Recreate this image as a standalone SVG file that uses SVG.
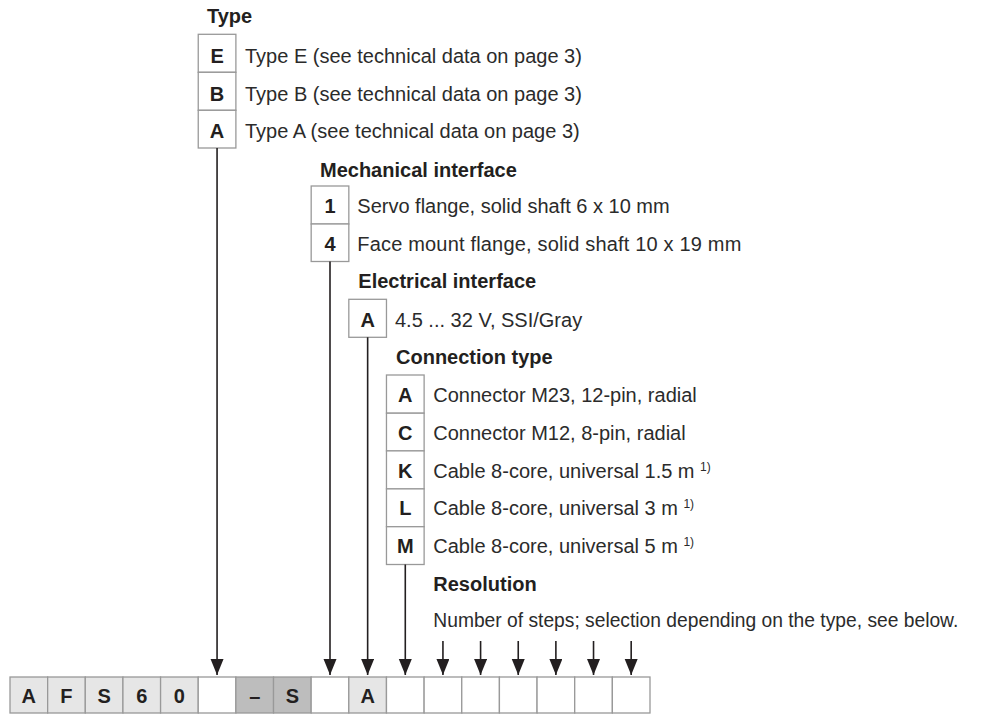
<svg xmlns="http://www.w3.org/2000/svg" width="986" height="715" viewBox="0 0 986 715">
<style>
text{font-family:"Liberation Sans",Arial,sans-serif;fill:#2b2b2b;font-size:20px}
.h{font-weight:bold;fill:#231f20}
.k{font-weight:bold;text-anchor:middle;fill:#231f20}
.sup{font-size:12px}
.box{fill:#fff;stroke:#999;stroke-width:1.3}
.lt{fill:#e6e6e6;stroke:#999;stroke-width:1.3}
.dk{fill:#bdbdbd;stroke:#999;stroke-width:1.3}
.wt{fill:#fff;stroke:#999;stroke-width:1.3}
.c{stroke:#231f20;stroke-width:1.6;fill:none}
</style>
<defs>
<marker id="ah" markerUnits="userSpaceOnUse" markerWidth="16" markerHeight="14" refX="16" refY="6.5" orient="auto">
<path d="M0,0 L16,6.5 L0,13 z" fill="#231f20"/>
</marker>
</defs>
<rect width="986" height="715" fill="#fff"/>

<g id="type">
<text class="h" x="207" y="23.3">Type</text>
<rect class="box" x="198.24" y="34.3" width="37.65" height="38"/>
<rect class="box" x="198.24" y="72.3" width="37.65" height="38"/>
<rect class="box" x="198.24" y="110.3" width="37.65" height="37.7"/>
<text class="k" x="217.06" y="62.8">E</text>
<text class="k" x="217.06" y="100.8">B</text>
<text class="k" x="217.06" y="138">A</text>
<text x="245" y="62.8">Type E (see technical data on page 3)</text>
<text x="245" y="100.8">Type B (see technical data on page 3)</text>
<text x="245" y="138">Type A (see technical data on page 3)</text>
</g>

<g id="mechanical">
<text class="h" x="320" y="176.7">Mechanical interface</text>
<rect class="box" x="311.18" y="186" width="37.65" height="38"/>
<rect class="box" x="311.18" y="224" width="37.65" height="37.5"/>
<text class="k" x="330" y="213.3">1</text>
<text class="k" x="330" y="251">4</text>
<text x="357.3" y="213.3">Servo flange, solid shaft 6 x 10 mm</text>
<text x="357.3" y="251" textLength="384" lengthAdjust="spacing">Face mount flange, solid shaft 10 x 19 mm</text>
</g>

<g id="electrical">
<text class="h" x="358.3" y="288.3">Electrical interface</text>
<rect class="box" x="348.82" y="299.3" width="37.65" height="38"/>
<text class="k" x="367.65" y="326.7">A</text>
<text x="395" y="326.7">4.5 ... 32 V, SSI/Gray</text>
</g>

<g id="connection">
<text class="h" x="396" y="364">Connection type</text>
<rect class="box" x="386.47" y="375" width="37.65" height="38.2"/>
<rect class="box" x="386.47" y="413.2" width="37.65" height="37.7"/>
<rect class="box" x="386.47" y="450.9" width="37.65" height="38"/>
<rect class="box" x="386.47" y="488.9" width="37.65" height="37.8"/>
<rect class="box" x="386.47" y="526.7" width="37.65" height="37.8"/>
<text class="k" x="405.29" y="401.7">A</text>
<text class="k" x="405.29" y="440">C</text>
<text class="k" x="405.29" y="477.7">K</text>
<text class="k" x="405.29" y="515.3">L</text>
<text class="k" x="405.29" y="552.9">M</text>
<text x="433.3" y="401.7">Connector M23, 12-pin, radial</text>
<text x="433.3" y="440">Connector M12, 8-pin, radial</text>
<text x="433.3" y="477.7">Cable 8-core, universal 1.5 m <tspan class="sup" dy="-7">1)</tspan></text>
<text x="433.3" y="515.3">Cable 8-core, universal 3 m <tspan class="sup" dy="-7">1)</tspan></text>
<text x="433.3" y="552.9">Cable 8-core, universal 5 m <tspan class="sup" dy="-7">1)</tspan></text>
</g>

<g id="resolution">
<text class="h" x="433.3" y="590.7">Resolution</text>
<text x="433.3" y="627.3" textLength="525" lengthAdjust="spacingAndGlyphs">Number of steps; selection depending on the type, see below.</text>
</g>

<g id="connectors">
<line class="c" x1="217.06" y1="148" x2="217.06" y2="675" marker-end="url(#ah)"/>
<line class="c" x1="330" y1="261.5" x2="330" y2="675" marker-end="url(#ah)"/>
<line class="c" x1="367.65" y1="337.3" x2="367.65" y2="675" marker-end="url(#ah)"/>
<line class="c" x1="405.29" y1="564.5" x2="405.29" y2="675" marker-end="url(#ah)"/>
<line class="c" x1="442.94" y1="641" x2="442.94" y2="675" marker-end="url(#ah)"/>
<line class="c" x1="480.59" y1="641" x2="480.59" y2="675" marker-end="url(#ah)"/>
<line class="c" x1="518.24" y1="641" x2="518.24" y2="675" marker-end="url(#ah)"/>
<line class="c" x1="555.88" y1="641" x2="555.88" y2="675" marker-end="url(#ah)"/>
<line class="c" x1="593.53" y1="641" x2="593.53" y2="675" marker-end="url(#ah)"/>
<line class="c" x1="631.18" y1="641" x2="631.18" y2="675" marker-end="url(#ah)"/>
</g>

<g id="code-row">
<rect class="lt" x="10" y="677" width="37.65" height="36"/>
<rect class="lt" x="47.65" y="677" width="37.65" height="36"/>
<rect class="lt" x="85.29" y="677" width="37.65" height="36"/>
<rect class="lt" x="122.94" y="677" width="37.65" height="36"/>
<rect class="lt" x="160.59" y="677" width="37.65" height="36"/>
<rect class="wt" x="198.24" y="677" width="37.65" height="36"/>
<rect class="dk" x="235.88" y="677" width="37.65" height="36"/>
<rect class="dk" x="273.53" y="677" width="37.65" height="36"/>
<rect class="wt" x="311.18" y="677" width="37.65" height="36"/>
<rect class="lt" x="348.82" y="677" width="37.65" height="36"/>
<rect class="wt" x="386.47" y="677" width="37.65" height="36"/>
<rect class="wt" x="424.12" y="677" width="37.65" height="36"/>
<rect class="wt" x="461.76" y="677" width="37.65" height="36"/>
<rect class="wt" x="499.41" y="677" width="37.65" height="36"/>
<rect class="wt" x="537.06" y="677" width="37.65" height="36"/>
<rect class="wt" x="574.71" y="677" width="37.65" height="36"/>
<rect class="wt" x="612.35" y="677" width="37.65" height="36"/>
<text class="k" x="28.82" y="702.5">A</text>
<text class="k" x="66.47" y="702.5">F</text>
<text class="k" x="104.12" y="702.5">S</text>
<text class="k" x="141.76" y="702.5">6</text>
<text class="k" x="179.41" y="702.5">0</text>
<text class="k" x="254.71" y="702.5">–</text>
<text class="k" x="292.35" y="702.5">S</text>
<text class="k" x="367.65" y="702.5">A</text>
</g>
</svg>
